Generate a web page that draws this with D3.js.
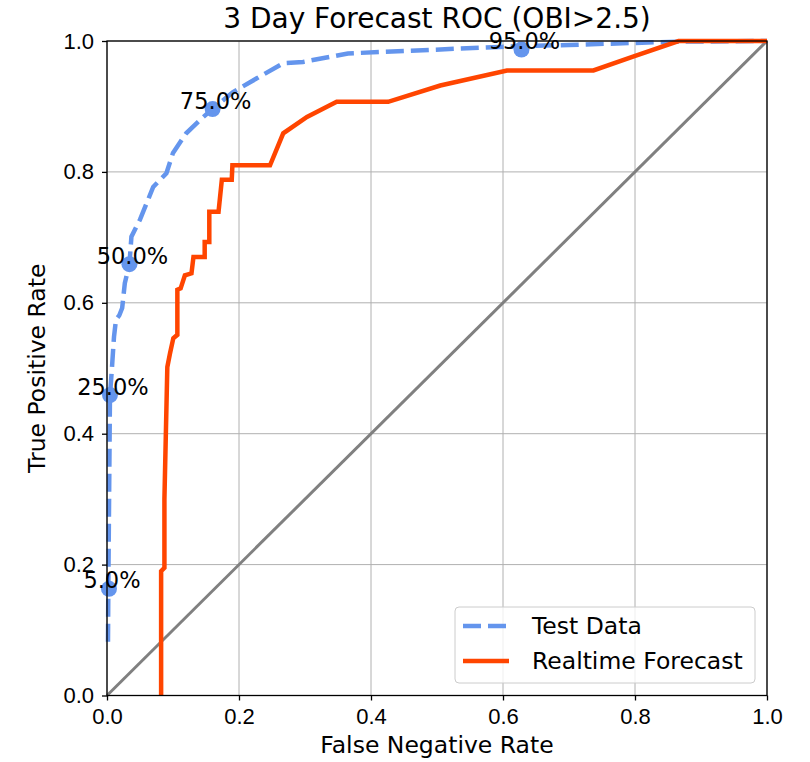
<!DOCTYPE html>
<html>
<head>
<meta charset="utf-8">
<script src="https://cdn.jsdelivr.net/npm/d3@7"></script>
<style>
  body { margin: 0; background: #fff; }
  svg { display: block; font-family: "DejaVu Sans", sans-serif; }
  .grid line { stroke: #b0b0b0; stroke-width: 1; }
  .axis text { font-size: 22px; fill: #000; }
  .axis path, .axis line { stroke: #000; stroke-width: 1.3; }
</style>
</head>
<body>
<div id="chart"></div>
<script>
const ticks = [0, 0.2, 0.4, 0.6, 0.8, 1.0];

// Test Data curve
const testFpr = [0.0015, 0.002, 0.004, 0.0045, 0.007, 0.0106, 0.0136, 0.0187, 0.023, 0.027, 0.034, 0.037, 0.05, 0.06, 0.07, 0.09, 0.1, 0.12, 0.146, 0.16, 0.191, 0.227, 0.267, 0.297, 0.365, 0.595, 0.70, 0.863, 1.0];
const testTpr = [0.082, 0.163, 0.40, 0.459, 0.493, 0.548, 0.574, 0.581, 0.592, 0.630, 0.659, 0.701, 0.727, 0.752, 0.777, 0.798, 0.829, 0.859, 0.884, 0.896, 0.922, 0.943, 0.966, 0.968, 0.981, 0.991, 0.994, 0.999, 1.0];

// Realtime Forecast curve
const rtFpr = [0.082, 0.082, 0.087, 0.087, 0.0914, 0.0955, 0.1005, 0.1066, 0.1066, 0.1116, 0.118, 0.128, 0.131, 0.148, 0.148, 0.155, 0.155, 0.169, 0.174, 0.189, 0.190, 0.247, 0.267, 0.303, 0.348, 0.426, 0.505, 0.606, 0.737, 0.797, 0.866, 1.0];
const rtTpr = [0.0, 0.19, 0.195, 0.30, 0.502, 0.523, 0.546, 0.551, 0.620, 0.622, 0.642, 0.645, 0.670, 0.670, 0.693, 0.693, 0.739, 0.739, 0.788, 0.788, 0.810, 0.810, 0.859, 0.884, 0.907, 0.907, 0.932, 0.955, 0.955, 0.976, 1.0, 1.0];

// threshold markers on the test curve
const thrLabels = ["5.0%", "25.0%", "50.0%", "75.0%", "95.0%"];
const thrFpr = [0.003, 0.0045, 0.034, 0.160, 0.628];
const thrTpr = [0.163, 0.459, 0.659, 0.896, 0.987];

const legendNames = ["Test Data", "Realtime Forecast"];

const margin = { top: 41, left: 107 };
const width = 660;
const height = 654.5;

const svg = d3.select("#chart").append("svg").attr("width", 810).attr("height", 762);
const g = svg.append("g").attr("transform", `translate(${margin.left},${margin.top})`);

const x = d3.scaleLinear().domain([0, 1]).range([0, width]);
const y = d3.scaleLinear().domain([0, 1]).range([height, 0]);

// grid
g.append("g").attr("class", "grid")
  .selectAll("line.v").data(ticks).join("line")
  .attr("x1", d => x(d)).attr("x2", d => x(d)).attr("y1", 0).attr("y2", height);
g.append("g").attr("class", "grid")
  .selectAll("line.h").data(ticks).join("line")
  .attr("y1", d => y(d)).attr("y2", d => y(d)).attr("x1", 0).attr("x2", width);

// diagonal
const line = d3.line().x(d => x(d[0])).y(d => y(d[1]));
g.append("path").datum([[0, 0], [1, 1]]).attr("d", line)
  .attr("fill", "none").attr("stroke", "#808080").attr("stroke-width", 3);

// curves
g.append("path").datum(testFpr.map((v, i) => [v, testTpr[i]])).attr("d", line)
  .attr("fill", "none").attr("stroke", "#6495ED").attr("stroke-width", 4.5)
  .attr("stroke-dasharray", "18,7");
g.append("path").datum(rtFpr.map((v, i) => [v, rtTpr[i]])).attr("d", line)
  .attr("fill", "none").attr("stroke", "#FF4500").attr("stroke-width", 4.5)
  .attr("stroke-linejoin", "miter");

// markers + labels
const thr = thrLabels.map((t, i) => ({ t, fx: thrFpr[i], ty: thrTpr[i] }));
g.selectAll("circle.thr").data(thr).join("circle")
  .attr("cx", d => x(d.fx)).attr("cy", d => y(d.ty)).attr("r", 8).attr("fill", "#6495ED");
g.selectAll("text.thr").data(thr).join("text")
  .attr("x", d => x(d.fx) + 3).attr("y", d => y(d.ty) - 0.5)
  .attr("text-anchor", "middle").attr("font-size", 22.5).attr("fill", "#000")
  .text(d => d.t);

// axes
const xAxis = d3.axisBottom(x).tickValues(ticks).tickFormat(d3.format(".1f")).tickSize(5).tickPadding(8);
const yAxis = d3.axisLeft(y).tickValues(ticks).tickFormat(d3.format(".1f")).tickSize(5).tickPadding(8);
g.append("g").attr("class", "axis").attr("transform", `translate(0,${height})`).call(xAxis)
  .call(a => a.select(".domain").remove());
g.append("g").attr("class", "axis").call(yAxis)
  .call(a => a.select(".domain").remove());
g.append("rect").attr("width", width).attr("height", height)
  .attr("fill", "none").attr("stroke", "#000").attr("stroke-width", 1.3);

// titles
svg.append("text").attr("x", margin.left + width / 2).attr("y", 28)
  .attr("text-anchor", "middle").attr("font-size", 28).text("3 Day Forecast ROC (OBI>2.5)");
svg.append("text").attr("x", margin.left + width / 2).attr("y", 753)
  .attr("text-anchor", "middle").attr("font-size", 23.5).text("False Negative Rate");
svg.append("text").attr("transform", `translate(45,${margin.top + height / 2}) rotate(-90)`)
  .attr("text-anchor", "middle").attr("font-size", 23.5).text("True Positive Rate");

// legend
const legend = svg.append("g").attr("transform", "translate(455,607)");
legend.append("rect").attr("width", 300).attr("height", 76).attr("rx", 4)
  .attr("fill", "#fff").attr("fill-opacity", 0.8).attr("stroke", "#cccccc").attr("stroke-width", 1);
const legStyles = [
  { color: "#6495ED", dash: "18,7" },
  { color: "#FF4500", dash: null }
];
legendNames.forEach((name, i) => {
  const yy = 19 + i * 35;
  legend.append("line").attr("x1", 8).attr("x2", 54).attr("y1", yy).attr("y2", yy)
    .attr("stroke", legStyles[i].color).attr("stroke-width", 4.5)
    .attr("stroke-dasharray", legStyles[i].dash);
  legend.append("text").attr("x", 77).attr("y", yy).attr("dy", "0.36em")
    .attr("font-size", 23.5).attr("fill", "#000").text(name);
});
</script>
</body>
</html>
